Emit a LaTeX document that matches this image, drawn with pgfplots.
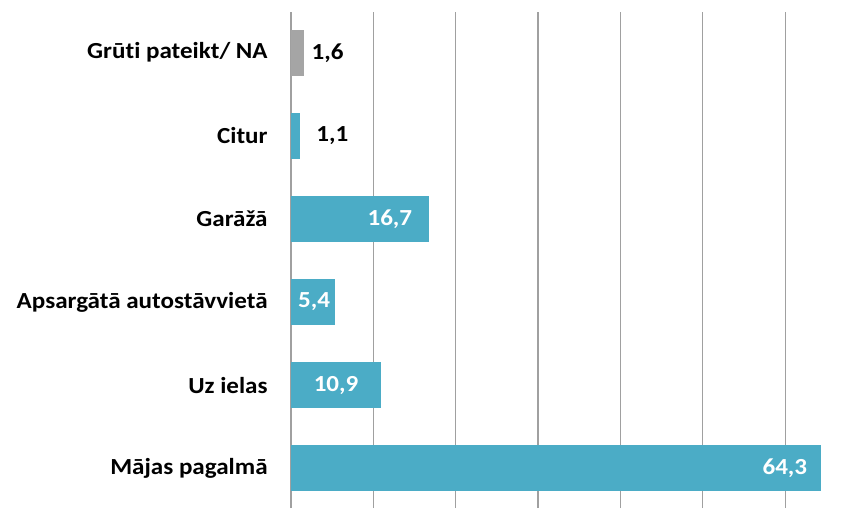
\documentclass[border=0pt]{standalone}
\usepackage{pgfplots}
\pgfplotsset{compat=1.18}
\usepackage{fontspec}
\setmainfont{Carlito}[FakeStretch=1.09, RawFeature=-liga]
\definecolor{teal1}{HTML}{4BACC6}
\definecolor{grayb}{HTML}{A5A5A5}
\definecolor{gridc}{HTML}{A0A0A0}
\begin{document}
\begin{tikzpicture}
\begin{axis}[
  scale only axis, width=280pt, height=248pt,
  xmin=0, xmax=68, ymin=-0.48, ymax=5.49,
  xbar, bar width=23pt, bar shift=0pt,
  axis line style={draw=none},
  xtick={0,10,...,60}, xticklabels={}, xmajorgrids,
  grid style={gridc, line width=0.6pt},
  major tick length=0pt,
  tick style={draw=none},
  ytick={0,...,5},
  yticklabels={Mājas pagalmā, Uz ielas, Apsargātā autostāvvietā, Garāžā, Citur, Grūti pateikt/ NA},
  yticklabel style={font=\fontsize{11.5}{13}\selectfont\bfseries, inner sep=0pt, xshift=-11.5pt},
  /pgf/number format/.cd, use comma, fixed, fixed zerofill, precision=1, assume math mode=true,
  /pgfplots/.cd,
  nodes near coords,
  every node near coord/.append style={font=\fontsize{11.5}{13}\selectfont\bfseries, inner sep=0pt},
]
\addplot[fill=teal1, draw=none, every node near coord/.append style={anchor=east, text=white, xshift=-6.5pt}]
  coordinates {(64.3,0)};
\addplot[fill=teal1, draw=none, every node near coord/.append style={anchor=east, text=white, xshift=-11pt}]
  coordinates {(10.9,1)};
\addplot[fill=teal1, draw=none, every node near coord/.append style={anchor=east, text=white, xshift=-2.5pt}]
  coordinates {(5.4,2)};
\addplot[fill=teal1, draw=none, every node near coord/.append style={anchor=east, text=white, xshift=-8pt}]
  coordinates {(16.7,3)};
\addplot[fill=teal1, draw=none, every node near coord/.append style={anchor=west, text=black, xshift=8pt}]
  coordinates {(1.1,4)};
\addplot[fill=grayb, draw=none, every node near coord/.append style={anchor=west, text=black, xshift=3.5pt}]
  coordinates {(1.6,5)};
\end{axis}
\pgfresetboundingbox
\path ([shift={(-145.5pt,0pt)}]current axis.south west) rectangle ([shift={(3pt,6pt)}]current axis.north east);
\end{tikzpicture}
\end{document}
